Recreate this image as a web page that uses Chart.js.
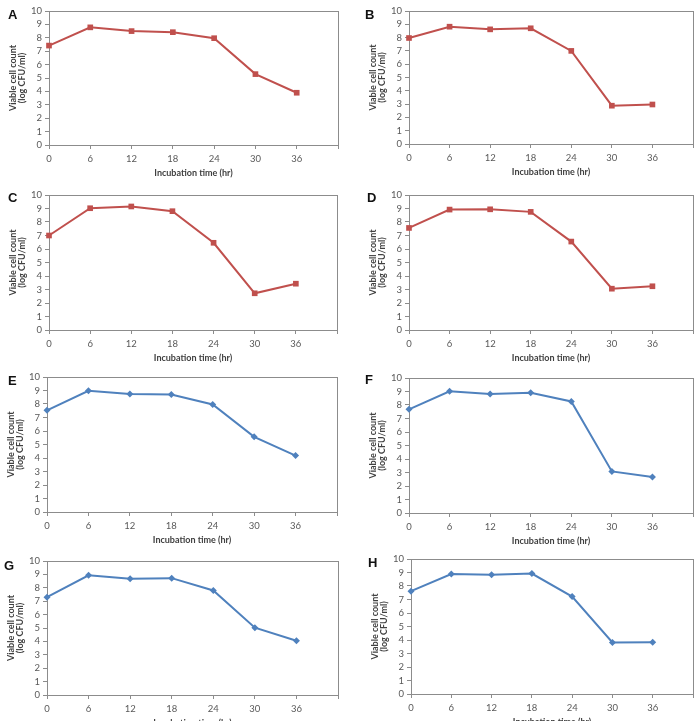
<!DOCTYPE html>
<html>
<head>
<meta charset="utf-8">
<script src="https://cdn.jsdelivr.net/npm/chart.js@4.4.1/dist/chart.umd.min.js"></script>
<style>
  html, body { margin: 0; padding: 0; background: #fff; }
  body { width: 699px; height: 721px; position: relative; overflow: hidden; }
  canvas { position: absolute; }
  .tag { position: absolute; font: bold 13px "Liberation Sans", Arial, sans-serif; line-height: 13px; color: #111; }
</style>
</head>
<body>
<script>
"use strict";

// sampling times (hr) and viable counts (log CFU/ml) per panel
const incubationHours = [0, 6, 12, 18, 24, 30, 36];
const panelA = [7.42, 8.78, 8.5, 8.42, 7.97, 5.29, 3.9];
const panelB = [7.97, 8.82, 8.62, 8.7, 7.0, 2.88, 2.97];
const panelC = [7.0, 9.02, 9.15, 8.8, 6.46, 2.72, 3.43];
const panelD = [7.56, 8.92, 8.94, 8.75, 6.55, 3.06, 3.24];
const panelE = [7.53, 8.98, 8.74, 8.71, 7.97, 5.57, 4.18];
const panelF = [7.68, 9.01, 8.81, 8.91, 8.26, 3.08, 2.67];
const panelG = [7.3, 8.93, 8.67, 8.72, 7.8, 5.02, 4.05];
const panelH = [7.62, 8.89, 8.84, 8.92, 7.22, 3.82, 3.84];

const xTickLabels = ["0", "6", "12", "18", "24", "30", "36"];
const yTickLabels = ["0", "1", "2", "3", "4", "5", "6", "7", "8", "9", "10"];
const xTitle = "Incubation time (hr)";
const yTitle = ["Viable cell count", "(log CFU/ml)"];

const RED = "#c0504d";
const BLUE = "#4f81bd";
const AXIS = "#8c8c8c";

Chart.defaults.font.family = "Lato, 'Open Sans', sans-serif";

// plot rectangles in page pixels
const panels = [
  { tag: "A", values: panelA, color: RED, marker: "rect", col: 0, left: 49, right: 338, top: 11, bottom: 145, tagX: 8, tagY: 8 },
  { tag: "B", values: panelB, color: RED, marker: "rect", col: 1, left: 409, right: 693, top: 11, bottom: 144, tagX: 365, tagY: 8 },
  { tag: "C", values: panelC, color: RED, marker: "rect", col: 0, left: 49, right: 337, top: 195, bottom: 330, tagX: 8, tagY: 191 },
  { tag: "D", values: panelD, color: RED, marker: "rect", col: 1, left: 409, right: 693, top: 195, bottom: 330, tagX: 367, tagY: 191 },
  { tag: "E", values: panelE, color: BLUE, marker: "rectRot", col: 0, left: 47, right: 337, top: 377, bottom: 512, tagX: 8, tagY: 374 },
  { tag: "F", values: panelF, color: BLUE, marker: "rectRot", col: 1, left: 409, right: 693, top: 378, bottom: 513, tagX: 365, tagY: 373 },
  { tag: "G", values: panelG, color: BLUE, marker: "rectRot", col: 0, left: 47, right: 338, top: 561, bottom: 695, tagX: 4, tagY: 559 },
  { tag: "H", values: panelH, color: BLUE, marker: "rectRot", col: 1, left: 411, right: 693, top: 559, bottom: 694, tagX: 368, tagY: 556 },
];

const frame = {
  id: "frame",
  beforeDatasetsDraw(chart) {
    const { ctx, chartArea: a } = chart;
    ctx.save();
    ctx.strokeStyle = AXIS;
    ctx.lineWidth = 1;
    ctx.strokeRect(Math.round(a.left) + 0.5, Math.round(a.top) + 0.5, Math.round(a.width), Math.round(a.height));
    ctx.restore();
  },
};

const CANVAS_W = 350;
const CANVAS_H = 184;
const Y_BOX = 43;
const X_BOX = 33;

panels.forEach((p) => {
  const x0 = p.col * 350;
  const y0 = p.top - 11;

  const canvas = document.createElement("canvas");
  canvas.width = CANVAS_W;
  canvas.height = CANVAS_H;
  canvas.style.left = x0 + "px";
  canvas.style.top = y0 + "px";
  document.body.appendChild(canvas);

  const tag = document.createElement("div");
  tag.className = "tag";
  tag.textContent = p.tag;
  tag.style.left = p.tagX + "px";
  tag.style.top = p.tagY + "px";
  document.body.appendChild(tag);

  const padLeft = p.left - x0 - Y_BOX;
  const padRight = x0 + CANVAS_W - p.right;
  const padTop = p.top - y0;
  const padBottom = CANVAS_H - (p.bottom - y0) - X_BOX;

  new Chart(canvas, {
    type: "line",
    data: {
      datasets: [
        {
          data: incubationHours.map((t, i) => ({ x: t, y: p.values[i] })),
          borderColor: p.color,
          backgroundColor: p.color,
          borderWidth: 2,
          pointStyle: p.marker,
          pointRadius: p.marker === "rect" ? 4 : 3.5,
          pointBorderWidth: 0,
          tension: 0,
          clip: false,
        },
      ],
    },
    options: {
      responsive: false,
      animation: false,
      layout: { padding: { left: padLeft, right: padRight, top: padTop, bottom: padBottom } },
      plugins: { legend: { display: false }, tooltip: { enabled: false } },
      scales: {
        x: {
          type: "linear",
          min: 0,
          max: 42,
          afterFit(scale) { scale.height = X_BOX; },
          ticks: {
            stepSize: 6,
            autoSkip: false,
            maxRotation: 0,
            padding: 4,
            color: "#595959",
            font: { size: 9.5 },
            callback: (v) => xTickLabels[incubationHours.indexOf(v)] ?? "",
          },
          grid: { drawOnChartArea: false, tickLength: 4, color: AXIS },
          border: { color: AXIS },
          title: {
            display: true,
            text: xTitle,
            color: "#404040",
            font: { size: 9, weight: "bold" },
            padding: 0,
          },
        },
        y: {
          min: 0,
          max: 10,
          afterFit(scale) { scale.width = Y_BOX; },
          ticks: {
            stepSize: 1,
            autoSkip: false,
            padding: 3,
            color: "#595959",
            font: { size: 9.5 },
            callback: (v) => yTickLabels[v] ?? "",
          },
          grid: { drawOnChartArea: false, tickLength: 4, color: AXIS },
          border: { color: AXIS },
          title: {
            display: true,
            text: yTitle,
            color: "#404040",
            font: { size: 9, weight: "bold", lineHeight: 1.0 },
            padding: { top: 3, bottom: 0 },
          },
        },
      },
    },
    plugins: [frame],
  });
});
</script>
</body>
</html>
